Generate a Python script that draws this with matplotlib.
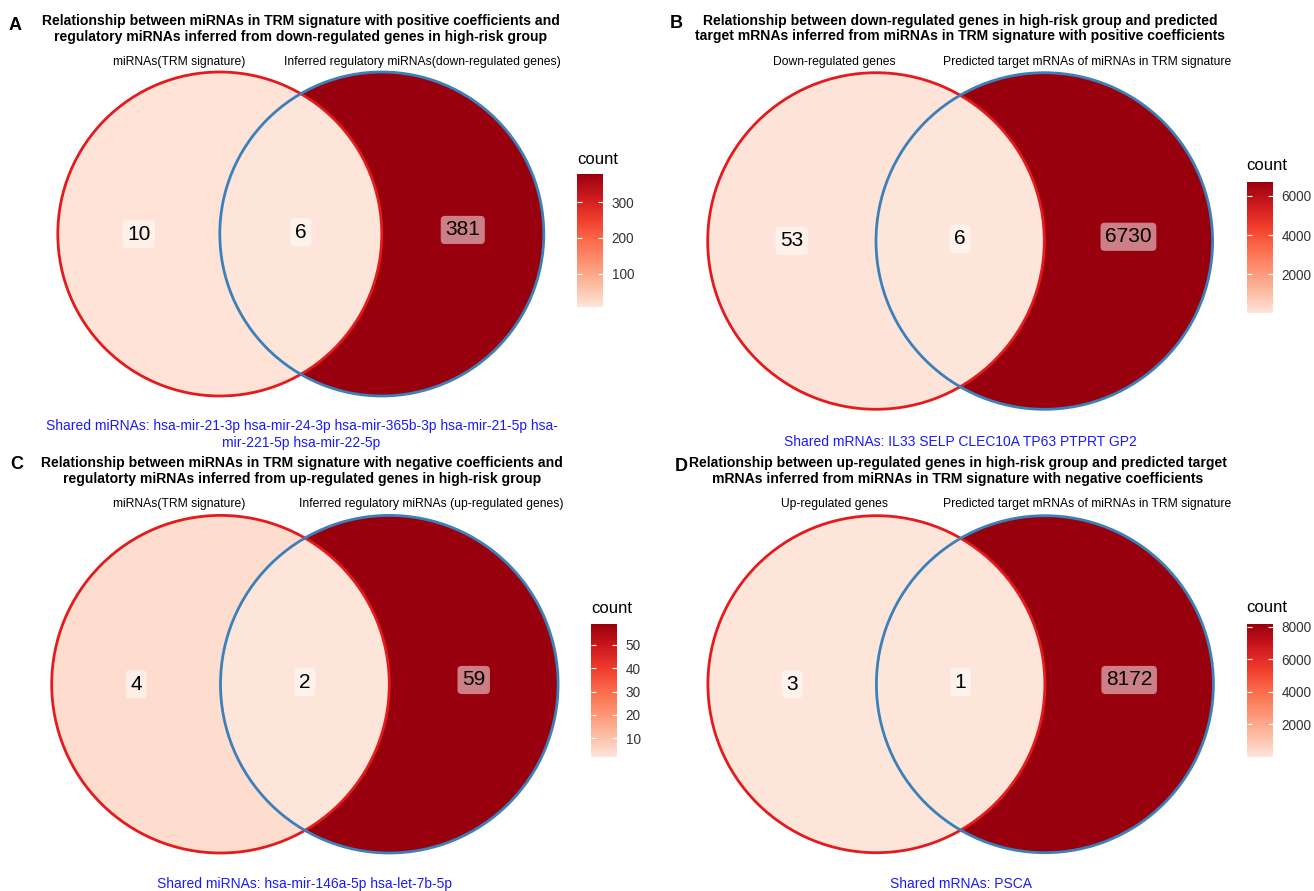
import numpy as np
import matplotlib
matplotlib.use("Agg")
import matplotlib.pyplot as plt
from matplotlib.patches import Circle
from matplotlib.colors import LinearSegmentedColormap, Normalize
from matplotlib.cm import ScalarMappable

plt.rcParams['font.family'] = ['Liberation Sans', 'DejaVu Sans']

W, H, DPI = 1314, 891, 100

# ---- data -------------------------------------------------------------
panel_tags = ["A", "B", "C", "D"]
titles = [
    "Relationship between miRNAs in TRM signature with positive coefficients and\n"
    "regulatory miRNAs inferred from down-regulated genes in high-risk group",
    "Relationship between down-regulated genes in high-risk group and predicted\n"
    "target mRNAs inferred from miRNAs in TRM signature with positive coefficients",
    "Relationship between miRNAs in TRM signature with negative coefficients and\n"
    "regulatorty miRNAs inferred from up-regulated genes in high-risk group",
    "Relationship between up-regulated genes in high-risk group and predicted target\n"
    "mRNAs inferred from miRNAs in TRM signature with negative coefficients",
]
left_set_names = ["miRNAs(TRM signature)", "Down-regulated genes",
                  "miRNAs(TRM signature)", "Up-regulated genes"]
right_set_names = ["Inferred regulatory miRNAs(down-regulated genes)",
                   "Predicted target mRNAs of miRNAs in TRM signature",
                   "Inferred regulatory miRNAs (up-regulated genes)",
                   "Predicted target mRNAs of miRNAs in TRM signature"]
left_only = [10, 53, 4, 3]
overlap = [6, 6, 2, 1]
right_only = [381, 6730, 59, 8172]
shared_notes = [
    "Shared miRNAs: hsa-mir-21-3p hsa-mir-24-3p hsa-mir-365b-3p hsa-mir-21-5p hsa-\n"
    "mir-221-5p hsa-mir-22-5p",
    "Shared mRNAs: IL33 SELP CLEC10A TP63 PTPRT GP2",
    "Shared miRNAs: hsa-mir-146a-5p hsa-let-7b-5p",
    "Shared mRNAs: PSCA",
]
cbar_ticks = [[100, 200, 300],
              [2000, 4000, 6000],
              [10, 20, 30, 40, 50],
              [2000, 4000, 6000, 8000]]

# ---- layout (pixel units, origin top-left) ----------------------------
venn_geom = [(219.8, 234.0, 162.0), (876.0, 241.0, 168.3),
             (220.5, 684.2, 168.8), (876.4, 684.2, 168.5)]
set_label_pos = [((179.5, 62.0), (422.8, 62.0)),
                 ((834.5, 61.7), (1086.7, 61.7)),
                 ((179.4, 504.3), (431.4, 504.3)),
                 ((834.5, 504.3), (1086.7, 504.3))]
title_pos = [(301, 28.9), (960, 28.5), (302, 471.3), (958, 471.3)]
tag_pos = [(9, 25), (670, 23.5), (10, 465), (675, 467)]
note_pos = [(301.6, 434.5), (960, 441.7), (304.7, 884.3), (960.7, 884.3)]
cbar_box = [(576.7, 173.5, 26.6, 133.5), (1246.7, 181.7, 26.6, 131.6),
            (591.0, 624.0, 26.4, 132.7), (1246.7, 624.0, 26.6, 132.7)]
count_title_pos = [(577, 159.3), (1246.7, 166.0), (591, 608.5), (1246.7, 608.0)]

reds = LinearSegmentedColormap.from_list(
    "reds7", ["#FEE5D9", "#FCBBA1", "#FC9272", "#FB6A4A",
              "#EF3B2C", "#CB181D", "#99000D"])
edge_left = "#E41A1C"
edge_right = "#3A80BA"


def fx(x):
    return x / W


def fy(y):
    return 1 - y / H


fig = plt.figure(figsize=(W / DPI, H / DPI), dpi=DPI)
fig.patch.set_facecolor("white")

for i in range(4):
    cx, cy, r = venn_geom[i]
    counts = [left_only[i], overlap[i], right_only[i]]
    norm = Normalize(vmin=min(counts), vmax=max(counts))

    ax = fig.add_axes([fx(cx - 1.05 * r), fy(cy + 1.05 * r),
                       3.1 * r / W, 2.1 * r / H])
    ax.set_xlim(-1.05, 2.05)
    ax.set_ylim(-1.05, 1.05)
    ax.axis("off")

    ax.add_patch(Circle((0, 0), 1, fc=reds(norm(left_only[i])), ec="none"))
    ax.add_patch(Circle((1, 0), 1, fc=reds(norm(right_only[i])), ec="none"))
    lens = Circle((1, 0), 1, fc=reds(norm(overlap[i])), ec="none")
    ax.add_patch(lens)
    lens.set_clip_path(Circle((0, 0), 1, transform=ax.transData))
    ax.add_patch(Circle((0, 0), 1, fill=False, ec=edge_left, lw=2.0))
    ax.add_patch(Circle((1, 0), 1, fill=False, ec=edge_right, lw=2.0))

    box = dict(boxstyle="round,pad=0.22,rounding_size=0.2",
               fc=(1, 1, 1, 0.5), ec="none")
    for (lx, ly), v in zip([(-0.5, 0.0), (0.5, 0.012), (1.5, 0.025)], counts):
        ax.text(lx, ly, str(v), ha="center", va="center", fontsize=15,
                color="black", bbox=box)

    # set names
    for (px, py), name in zip(set_label_pos[i],
                              [left_set_names[i], right_set_names[i]]):
        fig.text(fx(px), fy(py), name, ha="center", va="center",
                 fontsize=8.7, color="black")

    # title and panel tag
    tx, ty = title_pos[i]
    fig.text(fx(tx), fy(ty), titles[i], ha="center", va="center",
             fontsize=10.1, fontweight="bold", linespacing=1.15,
             multialignment="center")
    gx, gy = tag_pos[i]
    fig.text(fx(gx), fy(gy), panel_tags[i], ha="left", va="center",
             fontsize=13, fontweight="bold")

    # shared members note
    nx, ny = note_pos[i]
    fig.text(fx(nx), fy(ny), shared_notes[i], ha="center", va="center",
             fontsize=10, color="#1a1aff", multialignment="center")

    # colour bar
    bx, by, bw, bh = cbar_box[i]
    cax = fig.add_axes([fx(bx), fy(by + bh), bw / W, bh / H])
    cb = fig.colorbar(ScalarMappable(norm=norm, cmap=reds), cax=cax,
                      ticks=cbar_ticks[i])
    cb.outline.set_visible(False)
    cax.tick_params(axis="y", which="major", left=True, right=True,
                    direction="in", color="white", length=3.8, width=0.8,
                    labelsize=9.8, labelcolor="#333333", pad=6)
    cax.minorticks_off()
    ox, oy = count_title_pos[i]
    fig.text(fx(ox), fy(oy), "count", ha="left", va="center", fontsize=12,
             color="black")

fig.savefig("out.png", dpi=DPI, facecolor="white")
